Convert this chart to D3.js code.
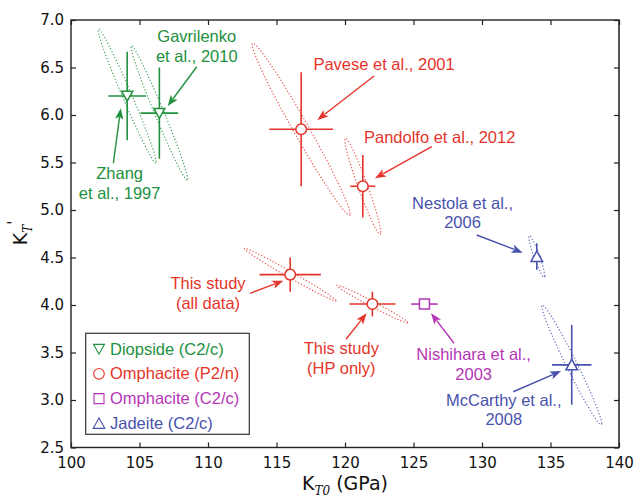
<!DOCTYPE html>
<html><head><meta charset="utf-8">
<script src="https://cdn.jsdelivr.net/npm/d3@7"></script>
<style>body{margin:0;background:#fff}svg{display:block}</style>
</head><body>
<script>
// ---- data ----
const studies  = ["Zhang et al., 1997","Gavrilenko et al., 2010","Pavese et al., 2001","Pandolfo et al., 2012","This study (all data)","This study (HP only)","Nishihara et al., 2003","Nestola et al., 2006","McCarthy et al., 2008"];
const phases   = ["Diopside","Diopside","OmphP","OmphP","OmphP","OmphP","OmphC","Jadeite","Jadeite"];
const K0       = [104.1, 106.45, 116.8, 121.3, 116.0, 122.0, 125.8, 134.0, 136.55];
const K0err    = [1.37, 1.37, 2.33, 0.91, 2.24, 1.68, 0.97, 0.3, 1.44];
const Kp       = [6.2, 6.02, 5.85, 5.25, 4.32, 4.01, 4.01, 4.51, 3.37];
const Kperr    = [0.465, 0.48, 0.60, 0.33, 0.18, 0.13, 0, 0.14, 0.42];
// confidence ellipse half-extents and correlation (null = none)
const ellSK0   = [2.12, 2.07, 3.58, 1.31, 3.34, 2.59, null, 0.58, 2.19];
const ellSKp   = [0.705, 0.71, 0.905, 0.505, 0.276, 0.198, null, 0.22, 0.63];
const ellRho   = [-0.985, -0.984, -0.984, -0.96, -0.991, -0.987, null, -0.93, -0.98];

const xTicks = [100,105,110,115,120,125,130,135,140];
const yTicks = [2.5,3.0,3.5,4.0,4.5,5.0,5.5,6.0,6.5,7.0];

const legendLabels = ["Diopside (C2/c)","Omphacite (P2/n)","Omphacite (C2/c)","Jadeite (C2/c)"];
const legendPhases = ["Diopside","OmphP","OmphC","Jadeite"];

// annotation labels (lines), label anchor and arrow in data units
const annLines  = [["Zhang","et al., 1997"],["Gavrilenko","et al., 2010"],["Pavese et al., 2001"],["Pandolfo et al., 2012"],["This study","(all data)"],["This study","(HP only)"],["Nishihara et al.,","2003"],["Nestola et al.,","2006"],["McCarthy et al.,","2008"]];
const annX      = [103.55, 109.18, 122.85, 126.91, 110.0, 119.73, 129.39, 128.58, 131.59];
const annY      = [5.326, 6.768, 6.474, 5.705, 4.168, 3.484, 3.416, 5.011, 2.937];
const arrFrom   = [[103.09,5.492],[109.18,6.508],[122.12,6.411],[126.33,5.666],[113.07,4.123],[120.07,3.639],[127.96,3.597],[129.61,4.737],[132.28,3.087]];
const arrTo     = [[103.63,6.071],[107.06,6.095],[117.98,5.947],[122.19,5.334],[115.50,4.256],[121.58,3.913],[126.28,3.913],[132.97,4.551],[135.77,3.305]];

// ---- styles ----
const color = {Diopside:"#22903e", OmphP:"#e5352b", OmphC:"#b536b6", Jadeite:"#4852ad"};
const W = 635, H = 503;
const x = d3.scaleLinear().domain([100,140]).range([71,619]);
const y = d3.scaleLinear().domain([2.5,7.0]).range([447.5,20]);

const svg = d3.select("body").append("svg").attr("width",W).attr("height",H);

// ellipses
const ellG = svg.append("g");
const line = d3.line().curve(d3.curveLinearClosed);
studies.forEach((s,i)=>{
  if (ellSK0[i]==null) return;
  const sr = Math.sqrt(1-ellRho[i]*ellRho[i]);
  const pts = d3.range(0,240).map(k=>{
    const t = k/240*2*Math.PI;
    return [x(K0[i]+ellSK0[i]*Math.cos(t)), y(Kp[i]+ellSKp[i]*(ellRho[i]*Math.cos(t)+sr*Math.sin(t)))];
  });
  ellG.append("path").attr("d",line(pts)).attr("fill","none")
    .attr("stroke",color[phases[i]]).attr("stroke-width",1.2)
    .attr("stroke-dasharray","1.2 2").attr("opacity",0.85);
});

// frame
svg.append("rect").attr("x",x(100)).attr("y",y(7)).attr("width",x(140)-x(100)).attr("height",y(2.5)-y(7))
  .attr("fill","none").attr("stroke","#222").attr("stroke-width",1.4);
svg.append("line").attr("x1",x(140)).attr("x2",x(140)).attr("y1",y(7)).attr("y2",y(2.5))
  .attr("stroke","#555").attr("stroke-width",2);

// axes with inward ticks
const axB = svg.append("g").attr("transform",`translate(0,${y(2.5)})`)
  .call(d3.axisBottom(x).tickValues(xTicks).tickSize(-5).tickPadding(10).tickFormat(d3.format("d")));
const axT = svg.append("g").attr("transform",`translate(0,${y(7)})`)
  .call(d3.axisTop(x).tickValues(xTicks).tickSize(-5).tickFormat(""));
const axL = svg.append("g").attr("transform",`translate(${x(100)},0)`)
  .call(d3.axisLeft(y).tickValues(yTicks).tickSize(-5).tickPadding(7).tickFormat(d3.format(".1f")));
const axR = svg.append("g").attr("transform",`translate(${x(140)},0)`)
  .call(d3.axisRight(y).tickValues(yTicks).tickSize(-5).tickFormat(""));
[axB,axT,axL,axR].forEach(a=>{
  a.select(".domain").remove();
  a.selectAll(".tick line").attr("stroke","#222").attr("stroke-width",1.2);
  a.selectAll("text").attr("font-family","DejaVu Sans").attr("font-size",15).attr("fill","#111");
});

// axis labels
const xl = svg.append("text").attr("x",345).attr("y",490).attr("text-anchor","middle")
  .attr("font-family","DejaVu Sans").attr("font-size",19).attr("fill","#111");
xl.append("tspan").text("K");
xl.append("tspan").attr("font-family","DejaVu Serif").attr("font-style","italic").attr("font-size",12).attr("dy",5).text("T0");
xl.append("tspan").attr("dy",-5).text(" (GPa)");

const yl = svg.append("text").attr("transform","translate(27,233) rotate(-90)").attr("text-anchor","middle")
  .attr("font-family","DejaVu Sans").attr("font-size",19).attr("fill","#111");
yl.append("tspan").text("K");
yl.append("tspan").attr("font-family","DejaVu Serif").attr("font-style","italic").attr("font-size",12).attr("dy",5).text("T");
yl.append("tspan").attr("dy",-13).attr("font-size",15).text("'");

// error bars + markers
const sym = {
  Diopside: d3.symbol().type({draw(c,s){const r=5.5;c.moveTo(-r,-r*0.85);c.lineTo(r,-r*0.85);c.lineTo(0,r*0.95);c.closePath();}}),
  OmphP: d3.symbol().type({draw(c,s){c.arc(0,0,5.3,0,2*Math.PI);}}),
  OmphC: d3.symbol().type({draw(c,s){c.rect(-5,-5,10,10);}}),
  Jadeite: d3.symbol().type({draw(c,s){const r=5.8;c.moveTo(-r,r*0.85);c.lineTo(r,r*0.85);c.lineTo(0,-r*0.95);c.closePath();}})
};
const ptsG = svg.append("g");
studies.forEach((s,i)=>{
  const c = color[phases[i]];
  const g = ptsG.append("g");
  g.append("line").attr("x1",x(K0[i]-K0err[i])).attr("x2",x(K0[i]+K0err[i])).attr("y1",y(Kp[i])).attr("y2",y(Kp[i]))
    .attr("stroke",c).attr("stroke-width",1.6);
  if (Kperr[i]>0) g.append("line").attr("x1",x(K0[i])).attr("x2",x(K0[i])).attr("y1",y(Kp[i]-Kperr[i])).attr("y2",y(Kp[i]+Kperr[i]))
    .attr("stroke",c).attr("stroke-width",1.6);
  g.append("path").attr("d",sym[phases[i]]()).attr("transform",`translate(${x(K0[i])},${y(Kp[i])})`)
    .attr("fill","#fff").attr("stroke",c).attr("stroke-width",1.5);
});

// annotations
const annG = svg.append("g");
studies.forEach((s,i)=>{
  const c = color[phases[i]];
  const t = annG.append("text").attr("text-anchor","middle").attr("font-family","Liberation Sans, Arial")
    .attr("font-size",16.5).attr("fill",c);
  annLines[i].forEach((l,j)=>{
    t.append("tspan").attr("x",x(annX[i])).attr("y",y(annY[i])+j*19.5).text(l);
  });
  const x1=x(arrFrom[i][0]), y1=y(arrFrom[i][1]), x2=x(arrTo[i][0]), y2=y(arrTo[i][1]);
  const ang = Math.atan2(y2-y1,x2-x1), L=11, Wd=4.2;
  const bx = x2-L*Math.cos(ang), by = y2-L*Math.sin(ang);
  annG.append("line").attr("x1",x1).attr("y1",y1).attr("x2",bx+2*Math.cos(ang)).attr("y2",by+2*Math.sin(ang))
    .attr("stroke",c).attr("stroke-width",1.4);
  annG.append("path").attr("fill",c)
    .attr("d",`M${x2},${y2}L${bx-Wd*Math.sin(ang)},${by+Wd*Math.cos(ang)}L${bx+2.5*Math.cos(ang)},${by+2.5*Math.sin(ang)}L${bx+Wd*Math.sin(ang)},${by-Wd*Math.cos(ang)}Z`);
});

// legend
const lg = svg.append("g");
lg.append("rect").attr("x",85.7).attr("y",333.3).attr("width",163.6).attr("height",101)
  .attr("fill","#fff").attr("stroke","#333").attr("stroke-width",1.2);
legendLabels.forEach((l,j)=>{
  const c = color[legendPhases[j]];
  const cy = 349 + j*24.8;
  lg.append("path").attr("d",sym[legendPhases[j]]()).attr("transform",`translate(99,${cy})`)
    .attr("fill","none").attr("stroke",c).attr("stroke-width",1.1);
  lg.append("text").attr("x",110).attr("y",cy+5.5).attr("font-family","Liberation Sans, Arial")
    .attr("font-size",16.5).attr("fill",c).text(l);
});
</script>
</body></html>
